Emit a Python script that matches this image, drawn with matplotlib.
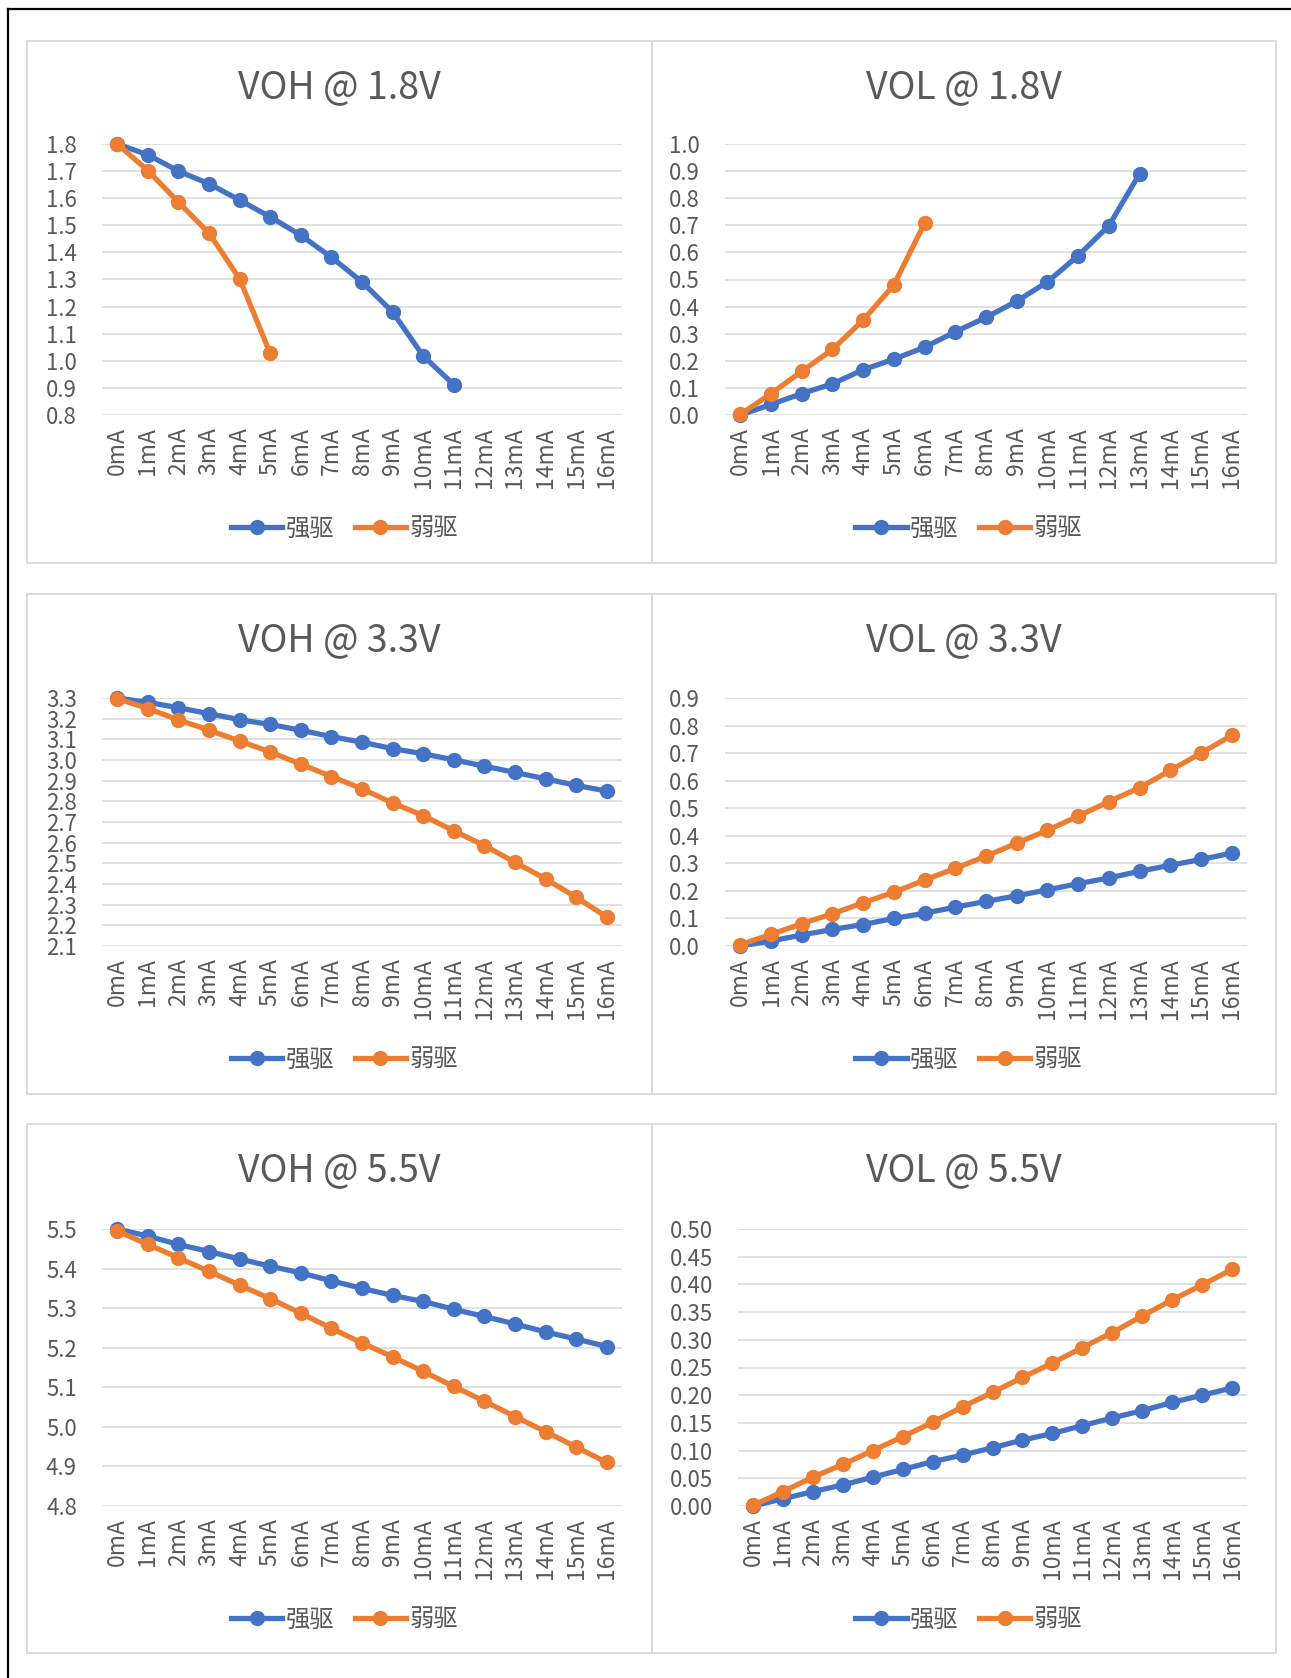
import numpy as np
import matplotlib
matplotlib.use("Agg")
import matplotlib.pyplot as plt
from matplotlib.patches import Rectangle
from matplotlib.lines import Line2D

plt.rcParams['font.family'] = ['Noto Sans CJK SC', 'DejaVu Sans']
plt.rcParams['font.weight'] = 'light'

# ---------------- data ----------------
categories = [f"{i}mA" for i in range(17)]
series_names = ["强驱", "弱驱"]

voh18_strong = [1.80, 1.76, 1.70, 1.653, 1.593, 1.531, 1.463, 1.382, 1.291, 1.180, 1.018, 0.912]
voh18_weak = [1.80, 1.702, 1.585, 1.471, 1.302, 1.027]

vol18_strong = [0.0, 0.039, 0.079, 0.115, 0.167, 0.206, 0.250, 0.307, 0.360, 0.420, 0.491, 0.588, 0.698, 0.890]
vol18_weak = [0.002, 0.079, 0.161, 0.242, 0.350, 0.480, 0.708]

voh33_strong = [3.30, 3.279, 3.253, 3.224, 3.195, 3.172, 3.144, 3.113, 3.086, 3.055, 3.030, 3.001, 2.970, 2.940, 2.909, 2.877, 2.850]
voh33_weak = [3.297, 3.249, 3.194, 3.144, 3.092, 3.039, 2.980, 2.920, 2.861, 2.792, 2.731, 2.657, 2.586, 2.505, 2.425, 2.336, 2.241]

vol33_strong = [0.0, 0.018, 0.040, 0.060, 0.078, 0.100, 0.119, 0.141, 0.162, 0.182, 0.204, 0.226, 0.247, 0.271, 0.293, 0.314, 0.337]
vol33_weak = [0.005, 0.042, 0.081, 0.117, 0.157, 0.195, 0.239, 0.282, 0.326, 0.373, 0.420, 0.471, 0.524, 0.574, 0.637, 0.700, 0.764]

voh55_strong = [5.50, 5.482, 5.461, 5.443, 5.424, 5.406, 5.389, 5.369, 5.350, 5.332, 5.317, 5.297, 5.279, 5.260, 5.240, 5.222, 5.203]
voh55_weak = [5.495, 5.461, 5.427, 5.393, 5.358, 5.324, 5.287, 5.249, 5.212, 5.177, 5.140, 5.102, 5.065, 5.026, 4.988, 4.949, 4.910]

vol55_strong = [0.0, 0.013, 0.026, 0.038, 0.052, 0.066, 0.080, 0.092, 0.105, 0.119, 0.131, 0.145, 0.159, 0.172, 0.187, 0.200, 0.213]
vol55_weak = [0.001, 0.026, 0.052, 0.075, 0.100, 0.125, 0.151, 0.179, 0.205, 0.232, 0.258, 0.286, 0.313, 0.343, 0.372, 0.399, 0.427]

titles = ["VOH @ 1.8V", "VOL @ 1.8V", "VOH @ 3.3V", "VOL @ 3.3V", "VOH @ 5.5V", "VOL @ 5.5V"]
y_ticks = [
    np.round(np.arange(0.8, 1.81, 0.1), 2),
    np.round(np.arange(0.0, 1.01, 0.1), 2),
    np.round(np.arange(2.1, 3.31, 0.1), 2),
    np.round(np.arange(0.0, 0.91, 0.1), 2),
    np.round(np.arange(4.8, 5.51, 0.1), 2),
    np.round(np.arange(0.0, 0.501, 0.05), 3),
]
y_fmt = ["{:.1f}", "{:.1f}", "{:.1f}", "{:.1f}", "{:.1f}", "{:.2f}"]
panel_data = [
    (voh18_strong, voh18_weak),
    (vol18_strong, vol18_weak),
    (voh33_strong, voh33_weak),
    (vol33_strong, vol33_weak),
    (voh55_strong, voh55_weak),
    (vol55_strong, vol55_weak),
]

# ---------------- layout ----------------
W, H = 1291, 1678
BLUE = "#4472C4"
ORANGE = "#ED7D31"
TXT = "#595959"
GRID = "#D9D9D9"

fig = plt.figure(figsize=(W / 100, H / 100), dpi=100)
fig.patch.set_facecolor("white")

def fx(x):
    return x / W

def fy(y):
    return 1 - y / H

# outer black frame (top and left)
fig.add_artist(Line2D([fx(8), fx(W)], [fy(9), fy(9)], color="black", lw=1.6))
fig.add_artist(Line2D([fx(8), fx(8)], [fy(9), fy(H)], color="black", lw=1.6))

col_x = [(27, 652), (652, 1276)]
row_y = [(41, 563), (594, 1094), (1124, 1653)]

# plot areas (pixel boxes: x0, x1, y_top, y_bottom)
plot_boxes = [
    (102, 622, 144, 415),
    (725, 1247, 144, 415),
    (102, 622, 698, 946),
    (725, 1247, 698, 946),
    (102, 622, 1229, 1506),
    (738, 1247, 1229, 1506),
]
title_y = [88, 88, 641, 641, 1171, 1171]
legend_y = [529, 529, 1060, 1060, 1620, 1620]

for i in range(6):
    r, c = divmod(i, 2)
    px0, px1 = col_x[c]
    py0, py1 = row_y[r]
    fig.add_artist(Rectangle((fx(px0), fy(py1)), fx(px1 - px0), (py1 - py0) / H,
                             fill=False, edgecolor=GRID, lw=1.3))

    x0, x1, yt, yb = plot_boxes[i]
    ax = fig.add_axes([fx(x0), fy(yb), fx(x1 - x0), (yb - yt) / H])
    ticks = y_ticks[i]
    ax.set_ylim(ticks[0], ticks[-1])
    ax.set_xlim(-0.5, 16.5)
    ax.set_yticks(ticks)
    ax.set_yticklabels([y_fmt[i].format(t) for t in ticks])
    ax.set_xticks(range(len(categories)))
    ax.set_xticklabels(categories, rotation=90)
    ax.tick_params(axis="y", length=0, pad=18, labelsize=16, labelcolor=TXT)
    ax.tick_params(axis="x", length=0, pad=9, labelsize=16.5, labelcolor=TXT)
    for s in ax.spines.values():
        s.set_visible(False)
    ax.yaxis.grid(True, color=GRID, lw=1.1)
    ax.set_axisbelow(True)

    strong, weak = panel_data[i]
    ax.plot(np.arange(len(strong)), strong, color=BLUE, lw=3.8, marker="o",
            markersize=10, label=series_names[0], clip_on=False, zorder=3)
    ax.plot(np.arange(len(weak)), weak, color=ORANGE, lw=3.8, marker="o",
            markersize=10, label=series_names[1], clip_on=False, zorder=4)

    cx = (px0 + px1) / 2
    fig.text(fx(cx), fy(title_y[i]), titles[i], ha="center", va="center",
             fontsize=27, color=TXT)

    handles, labels = ax.get_legend_handles_labels()
    fig.legend(handles, labels, loc="center", bbox_to_anchor=(fx(cx + 5), fy(legend_y[i])),
               ncol=2, frameon=False, fontsize=17.5, labelcolor=TXT,
               handlelength=2.1, handletextpad=0.15, columnspacing=0.85)

fig.savefig("out.png", dpi=100, facecolor="white")
